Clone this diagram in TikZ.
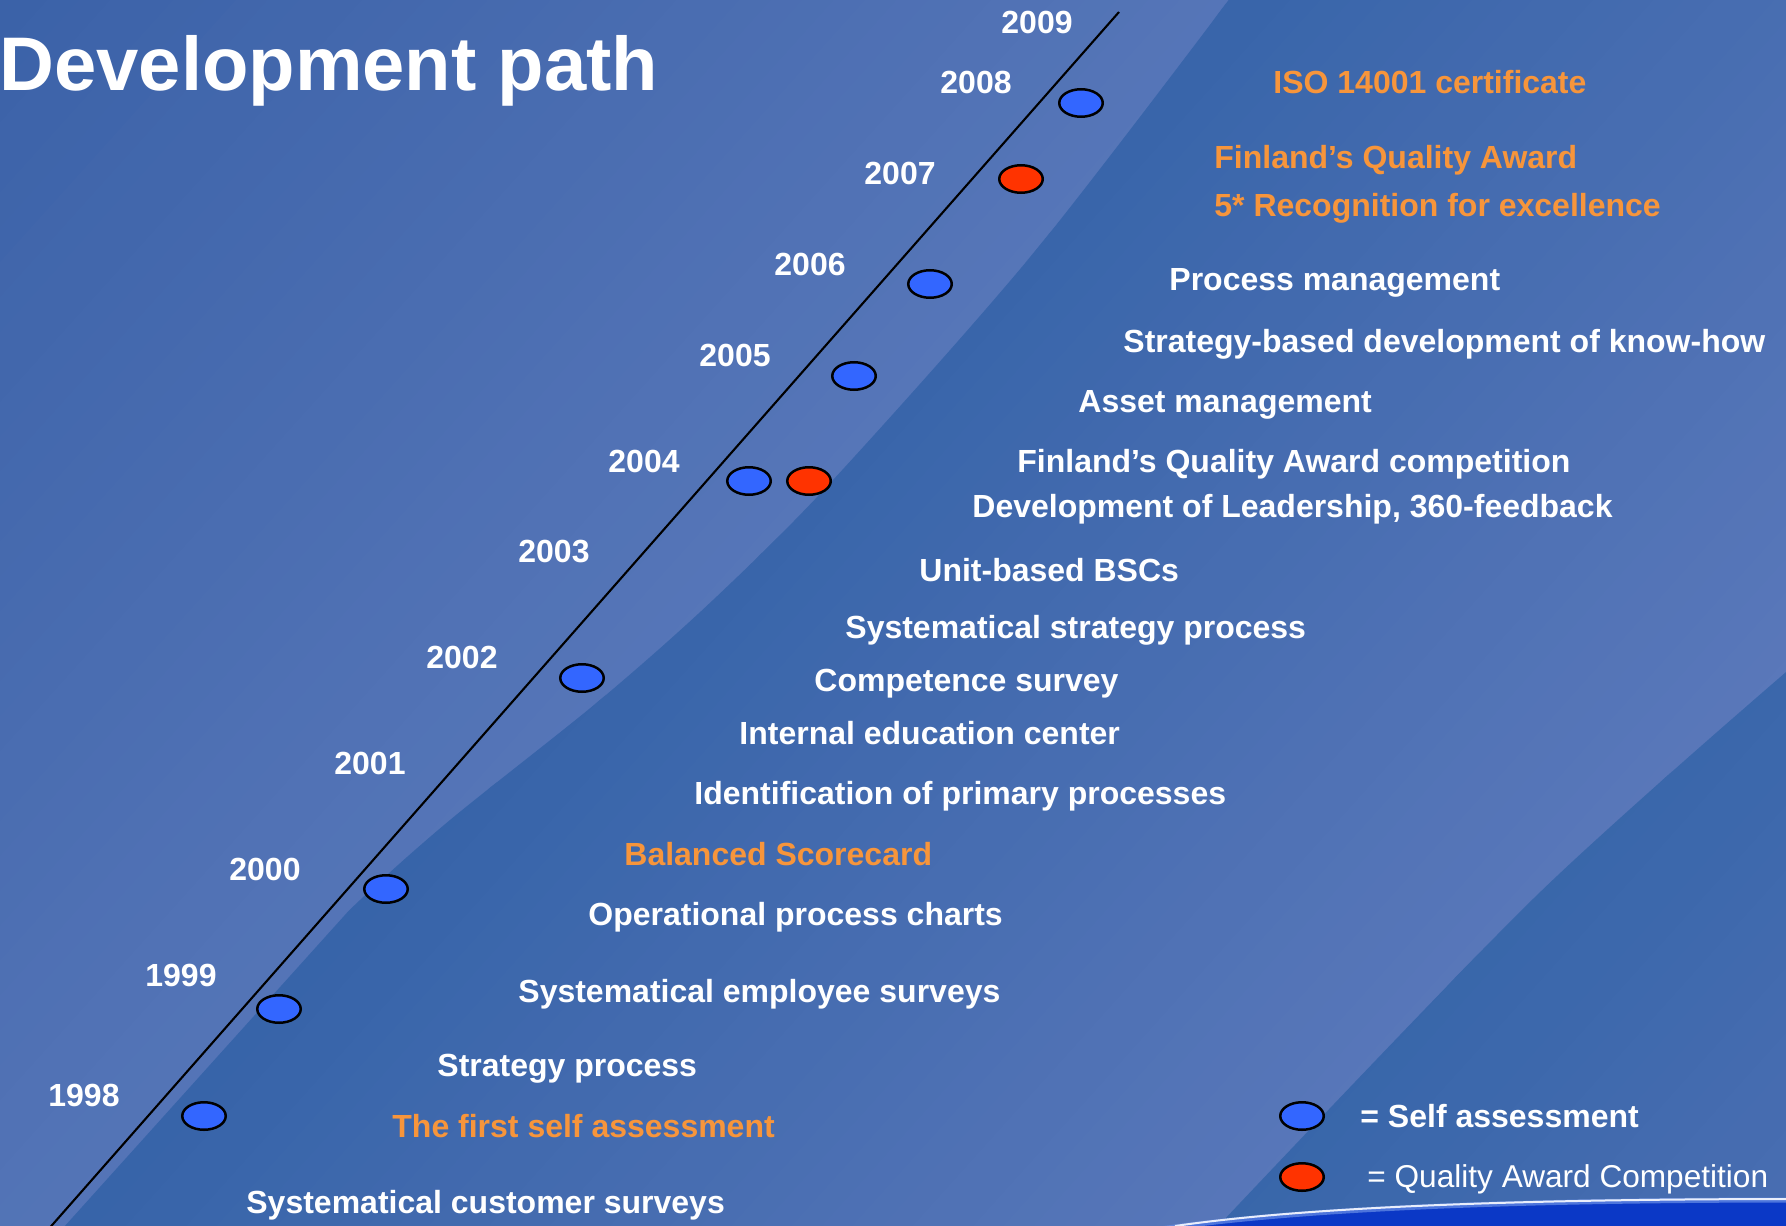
\documentclass[tikz,border=0pt]{standalone}
\usepackage{fontspec}
\setmainfont{Liberation Sans}
\usetikzlibrary{shapes.geometric}
\definecolor{bgAa}{HTML}{3B62A8}
\definecolor{bgAb}{HTML}{5676B8}
\definecolor{bgBa}{HTML}{3764A9}
\definecolor{bgBb}{HTML}{5A78BA}
\definecolor{bgCa}{HTML}{3866AA}
\definecolor{bgCb}{HTML}{4A6EB2}
\definecolor{deepblue}{HTML}{0B38C6}
\definecolor{glowblue}{HTML}{6A8FE6}
\definecolor{orangeT}{HTML}{F7953B}
\definecolor{dotblue}{HTML}{3366FF}
\definecolor{dotred}{HTML}{FF3300}
% strips perpendicular to n=(0.743,0.669)
\newcommand\bgstrips[5]{%
  \pgfmathsetmacro\stp{(#2-#1)/#3}%
  \foreach \i in {0,...,#3}{%
    \pgfmathsetmacro\ta{#1+\i*\stp-\stp/2}%
    \pgfmathsetmacro\tb{\ta+\stp+1.5}%
    \pgfmathtruncatemacro\pc{100*\i/#3}%
    \fill[#5!\pc!#4] ({0.743*\ta+1673},{0.669*\ta-1858}) -- ({0.743*\ta-1673},{0.669*\ta+1858}) -- ({0.743*\tb-1673},{0.669*\tb+1858}) -- ({0.743*\tb+1673},{0.669*\tb-1858}) -- cycle;
  }}
\begin{document}
\begin{tikzpicture}[x=0.5pt,y=-0.5pt,
  yr/.style={font=\fontsize{16}{18}\selectfont\bfseries, text=white, anchor=base, inner sep=0pt},
  itm/.style={font=\fontsize{16}{18}\selectfont\bfseries, text=white, anchor=base west, inner sep=0pt},
  hl/.style={itm, text=orangeT},
  titlestyle/.style={font=\fontsize{38}{44}\selectfont\bfseries, text=white, anchor=base west, inner sep=0pt},
  dotsa/.style={ellipse, draw=black, line width=1.25pt, fill=dotblue, minimum width=21.75pt, minimum height=13.75pt, inner sep=0pt},
  dotqa/.style={dotsa, fill=dotred},
  pathline/.style={draw=black, line width=1.05pt}]
\useasboundingbox (0,0) rectangle (1786,1225);
\clip (0,0) rectangle (1786,1225);
% background
\fill[bgAb] (0,0) rectangle (1786,1225);
\bgstrips{0}{935}{40}{bgAa}{bgAb}
\begin{scope}
  \clip plot[smooth] coordinates {(1240,-15) (1036,250) (833,480) (713,600) (600,700) (450,820) (360,900) (270,990) (166,1100) (40,1240)} -- (1800,1240) -- (1800,-15) -- cycle;
  \bgstrips{880}{1780}{40}{bgBa}{bgBb}
  \begin{scope}
    \clip plot[smooth] coordinates {(1800,660) (1535,897) (1205,1240)} -- (1800,1240) -- cycle;
    \bgstrips{1725}{2160}{20}{bgCa}{bgCb}
  \end{scope}
\end{scope}
% bottom swoosh
\fill[deepblue] (1160,1228) .. controls (1300,1208) and (1500,1199) .. (1800,1199) -- (1800,1240) -- (1160,1240) -- cycle;
\draw[glowblue, line width=2.5pt, opacity=0.7] (1160,1229) .. controls (1300,1209) and (1500,1200) .. (1800,1200);
\draw[white!85!glowblue, line width=1pt] (1175,1226) .. controls (1300,1208) and (1500,1199) .. (1800,1199);

% title
\node[titlestyle] (title) at (-1,91) {Development path};

% time line
\coordinate (ltop) at (1119,12);
\coordinate (lbot) at (39,1240);
\draw[pathline] (ltop) -- (lbot);

% years
\node[yr] (y2009) at (1037,34) {2009};
\node[yr] (y2008) at (976,94) {2008};
\node[yr] (y2007) at (900,185) {2007};
\node[yr] (y2006) at (810,275) {2006};
\node[yr] (y2005) at (735,366) {2005};
\node[yr] (y2004) at (644,472) {2004};
\node[yr] (y2003) at (554,562) {2003};
\node[yr] (y2002) at (462,668) {2002};
\node[yr] (y2001) at (370,774) {2001};
\node[yr] (y2000) at (265,880) {2000};
\node[yr] (y1999) at (181,986) {1999};
\node[yr] (y1998) at (84,1106) {1998};

% dots
\node[dotsa] (d2008) at (1081,103) {};
\node[dotqa] (d2007) at (1021,179) {};
\node[dotsa] (d2006) at (930,284) {};
\node[dotsa] (d2005) at (854,376) {};
\node[dotsa] (d2004) at (749,481) {};
\node[dotqa] (q2004) at (809,481) {};
\node[dotsa] (d2002) at (582,678) {};
\node[dotsa] (d2000) at (386,889) {};
\node[dotsa] (d1999) at (279,1009) {};
\node[dotsa] (d1998) at (204,1116) {};

% items
\node[hl]  (t01) at (1273,94)  {ISO 14001 certificate};
\node[hl]  (t02) at (1214,169) {Finland’s Quality Award};
\node[hl]  (t03) at (1214,217) {5* Recognition for excellence};
\node[itm] (t04) at (1169,290) {Process management};
\node[itm] (t05) at (1123,352) {Strategy-based development of know-how};
\node[itm] (t06) at (1078,412) {Asset management};
\node[itm] (t07) at (1017,472) {Finland’s Quality Award competition};
\node[itm] (t08) at (972,517)  {Development of Leadership, 360-feedback};
\node[itm] (t09) at (919,581)  {Unit-based BSCs};
\node[itm] (t10) at (845,638)  {Systematical strategy process};
\node[itm] (t11) at (814,691)  {Competence survey};
\node[itm] (t12) at (739,744)  {Internal education center};
\node[itm] (t13) at (694,804)  {Identification of primary processes};
\node[hl]  (t14) at (624,865)  {Balanced Scorecard};
\node[itm] (t15) at (588,925)  {Operational process charts};
\node[itm] (t16) at (518,1002) {Systematical employee surveys};
\node[itm] (t17) at (437,1076) {Strategy process};
\node[hl]  (t18) at (392,1137) {The first self assessment};
\node[itm] (t19) at (246,1213) {Systematical customer surveys};

% legend
\node[dotsa] (lgsa) at (1302,1116) {};
\node[dotqa] (lgqa) at (1302,1177) {};
\node[itm] (lgsat) at (1360,1127) {= Self assessment};
\node[itm, font=\fontsize{15.8}{18}\selectfont] (lgqat) at (1367,1187) {= Quality Award Competition};
\end{tikzpicture}
\end{document}
